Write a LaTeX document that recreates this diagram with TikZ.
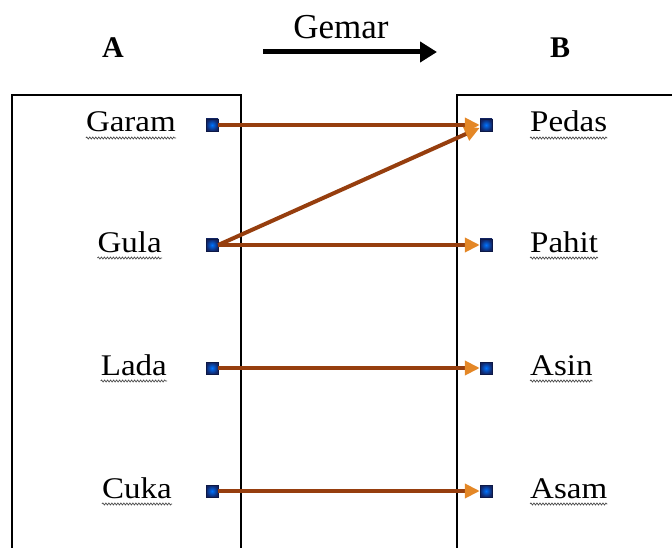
\documentclass[tikz,border=0pt]{standalone}
\usepackage{fontspec}
\setmainfont{Liberation Serif}
\newfontfamily\widefont{Liberation Serif}[FakeStretch=1.1]
\usetikzlibrary{arrows.meta,decorations.pathmorphing}
\definecolor{linkbrown}{RGB}{150,62,14}
\definecolor{tiporange}{RGB}{228,135,38}
\definecolor{dotblue}{RGB}{18,36,100}
\begin{document}
\begin{tikzpicture}[x=1pt,y=-1pt,
        frame/.style={line width=1.3pt},
        word/.style={font=\widefont\fontsize{30}{30}\selectfont, inner sep=0pt},
        setname/.style={font=\bfseries\fontsize{30}{30}\selectfont, inner sep=0pt},
        dot/.style={rectangle, draw=dotblue!70!black, inner color=blue!55!cyan,
                outer color=dotblue, minimum size=12pt, inner sep=0pt},
        link/.style={draw=linkbrown, line width=4pt,
                -{Triangle[length=15pt,width=14pt,color=tiporange]}},
        squiggle/.style={black!70, line width=0.7pt, decorate,
                decoration={snake, amplitude=1pt, segment length=3pt}}]
    \clip (0,0) rectangle (672,548);
    % heading
    \node[setname, anchor=base] (A) at (113,58) {A};
    \node[setname, anchor=base] (B) at (560,58) {B};
    \node[font=\fontsize{35}{35}\selectfont, inner sep=0pt, anchor=base] (rel) at (341,39) {Gemar};
    \coordinate (rs) at (263,52);
    \coordinate (re) at (437,52);
    \draw[line width=5pt, -{Triangle[length=17pt,width=20pt]}] (rs) -- (re);
    % the two sets
    \draw[frame] (12,548) -- (12,95) -- (241,95) -- (241,548);
    \draw[frame] (457,548) -- (457,95) -- (672,95);
    % domain
    \foreach \n/\txt/\x/\y in {ga/Garam/176/125, gu/Gula/162/245, la/Lada/167/368, cu/Cuka/172/491}{
        \node[dot] (\n) at (212,\y) {};
        \node[word, anchor=base east] (t\n) at (\x,\y+7) {\txt};
        \draw[squiggle] ([yshift=-6pt]t\n.base west) -- ([yshift=-6pt]t\n.base east);
    }
    % codomain
    \foreach \n/\txt/\y in {pe/Pedas/125, pa/Pahit/245, as/Asin/368, am/Asam/491}{
        \node[dot] (\n) at (486,\y) {};
        \node[word, anchor=base west] (t\n) at (530,\y+7) {\txt};
        \draw[squiggle] ([yshift=-6pt]t\n.base west) -- ([yshift=-6pt]t\n.base east);
    }
    \draw[link] (ga) -- (pe);
    \draw[link] (gu.east) -- (pe);
    \draw[link] (gu) -- (pa);
    \draw[link] (la) -- (as);
    \draw[link] (cu) -- (am);
\end{tikzpicture}
\end{document}
